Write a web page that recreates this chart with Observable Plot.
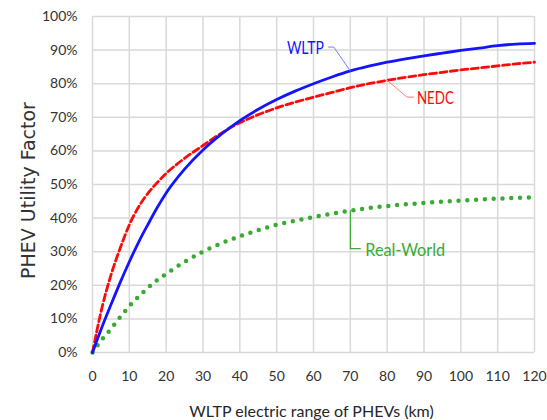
<!DOCTYPE html>
<html><head><meta charset="utf-8">
<script src="https://cdn.jsdelivr.net/npm/d3@7"></script>
<script src="https://cdn.jsdelivr.net/npm/@observablehq/plot@0.6"></script>
<style>body{margin:0;background:#fff}</style>
</head><body><div id="chart"></div>
<script>
// ---- data ----
const rangeKm   = [0, 2.5, 5, 7.5, 10, 12.5, 15, 17.5, 20, 25, 30, 35, 40, 45, 50, 55, 60, 65, 70, 75, 80, 85, 90, 95, 100, 105, 110, 115, 120];
const wltp      = [0, 7.4, 14.2, 20.8, 27, 32.8, 38, 43, 47.5, 54.6, 60.3, 65, 69, 72.4, 75.3, 77.8, 80, 82, 83.8, 85.2, 86.4, 87.4, 88.3, 89.1, 89.9, 90.6, 91.3, 91.8, 92];
const nedc      = [0, 13, 23, 31, 38, 43.3, 47.3, 50.5, 53.3, 57.8, 61.6, 65.3, 68.4, 70.8, 72.8, 74.5, 76, 77.4, 78.8, 80, 81, 81.9, 82.7, 83.4, 84.1, 84.7, 85.3, 85.9, 86.4];
const realWorld = [0, 3.8, 7, 10.5, 13.8, 16.6, 19.2, 21.5, 23.4, 27, 30, 32.5, 34.6, 36.4, 38, 39.2, 40.3, 41.3, 42.2, 43, 43.6, 44.1, 44.5, 44.9, 45.2, 45.5, 45.8, 46, 46.2];

const xTicks = [0, 10, 20, 30, 40, 50, 60, 70, 80, 90, 100, 110, 120];
const yTicks = [0, 10, 20, 30, 40, 50, 60, 70, 80, 90, 100];

const xTitle = "WLTP electric range of PHEVs (km)";
const yTitle = "PHEV Utility Factor";

const seriesNames = ["WLTP", "NEDC", "Real-World"];
const labelX = [57.8, 93.1, 84.9];
const labelY = [90.5, 75.6, 30.5];

const wltpLeaderX = [64.1, 65.5, 70.0];
const wltpLeaderY = [90.9, 90.9, 83.8];
const nedcLeaderX = [80.0, 85.4, 87.2];
const nedcLeaderY = [81.0, 76.0, 76.0];
const realLeaderX = [70.0, 70.0, 72.7];
const realLeaderY = [42.2, 30.9, 30.9];

// ---- build tables ----
const rows = ys => rangeKm.map((x, i) => ({x, y: ys[i]}));
const pts = (xs, ys) => xs.map((x, i) => ({x, y: ys[i]}));
const lab = i => [{x: labelX[i], y: labelY[i], text: seriesNames[i]}];

const BLUE = "#1414ff", RED = "#ff0a0a", GREEN = "#3aaa35";

const chart = Plot.plot({
  width: 547, height: 420,
  marginLeft: 92, marginRight: 13, marginTop: 16, marginBottom: 68,
  style: {fontFamily: "Lato, sans-serif", fontSize: "14px", color: "#333", background: "#fff"},
  x: {domain: [0, 120], ticks: xTicks, tickSize: 0, tickPadding: 19, label: null},
  y: {domain: [0, 100], ticks: yTicks, tickSize: 0, tickPadding: 15, tickFormat: d => d + "%", label: null},
  marks: [
    Plot.ruleY(yTicks, {y: d => d, stroke: "#d9d9d9", strokeWidth: 1.5}),
    Plot.ruleX(xTicks, {x: d => d, stroke: "#d9d9d9", strokeWidth: 1.5}),
    Plot.line(rows(realWorld), {x: "x", y: "y", stroke: GREEN, strokeWidth: 4.5, strokeDasharray: "0,8.8", strokeLinecap: "round", curve: "monotone-x"}),
    Plot.line(rows(nedc), {x: "x", y: "y", stroke: RED, strokeWidth: 2.8, strokeDasharray: "7,3.5", curve: "monotone-x"}),
    Plot.line(rows(wltp), {x: "x", y: "y", stroke: BLUE, strokeWidth: 2.8, curve: "monotone-x"}),
    Plot.line(pts(wltpLeaderX, wltpLeaderY), {x: "x", y: "y", stroke: "#7a7aff", strokeWidth: 1}),
    Plot.line(pts(nedcLeaderX, nedcLeaderY), {x: "x", y: "y", stroke: "#ff7a7a", strokeWidth: 1}),
    Plot.line(pts(realLeaderX, realLeaderY), {x: "x", y: "y", stroke: GREEN, strokeWidth: 1.2}),
    Plot.text(lab(0), {x: "x", y: "y", text: "text", fill: BLUE, fontSize: 18, textAnchor: "middle", lineAnchor: "middle"}),
    Plot.text(lab(1), {x: "x", y: "y", text: "text", fill: RED, fontSize: 18, textAnchor: "middle", lineAnchor: "middle"}),
    Plot.text(lab(2), {x: "x", y: "y", text: "text", fill: GREEN, fontSize: 18, textAnchor: "middle", lineAnchor: "middle"}),
    Plot.text([yTitle], {frameAnchor: "left", rotate: -90, textAnchor: "middle", lineAnchor: "middle", dx: -64, dy: 6, fontSize: 19, fontFamily: "DejaVu Sans", fill: "#333"}),
    Plot.text([xTitle], {frameAnchor: "bottom", textAnchor: "middle", lineAnchor: "middle", dx: -2, dy: 59, fontSize: 16, fill: "#262626"})
  ]
});
document.getElementById("chart").appendChild(chart);

// fit the inline series labels to the narrow lettering of the reference
const fitWidths = {"WLTP": 37, "NEDC": 37, "Real-World": 80};
d3.select(chart).selectAll("text").each(function() {
  const t = this.textContent;
  if (fitWidths[t]) {
    this.setAttribute("textLength", fitWidths[t]);
    this.setAttribute("lengthAdjust", "spacingAndGlyphs");
  }
});
</script>
</body></html>
